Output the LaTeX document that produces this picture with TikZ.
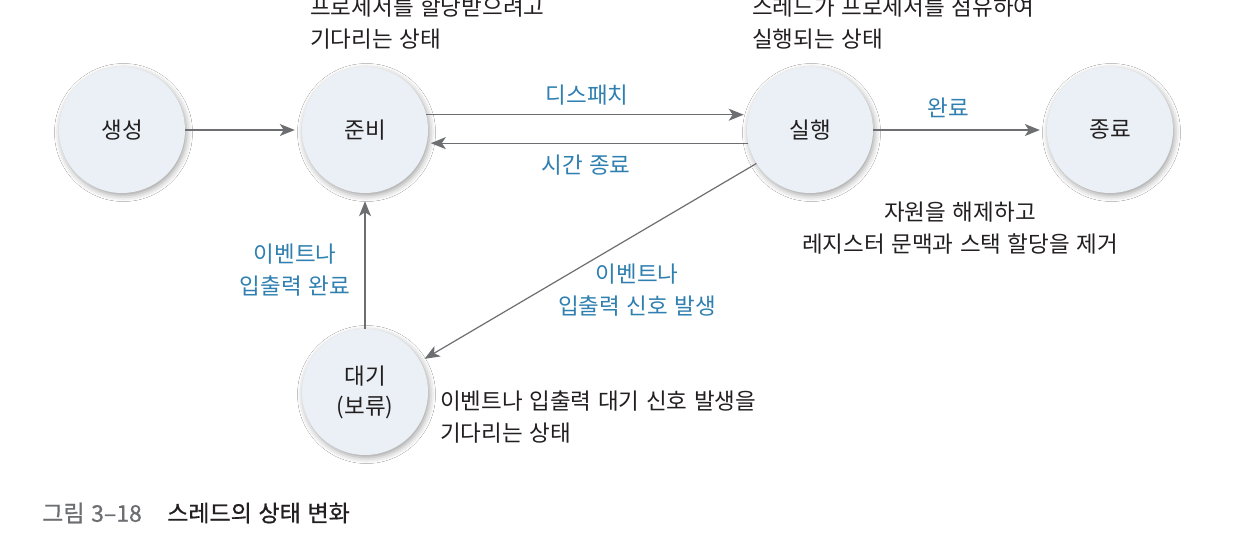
\documentclass[tikz,border=0pt]{standalone}
\usepackage{fontspec}
\setmainfont[WordSpace=1.3]{Noto Sans CJK KR}
\newfontfamily\capfont[FakeBold=0.7,WordSpace=1.3]{Noto Sans CJK KR}
\usetikzlibrary{arrows.meta,shadows.blur}
\definecolor{circfill}{HTML}{EAF0F5}
\definecolor{lblblue}{HTML}{2F80B0}
\definecolor{arrgray}{HTML}{6D6E71}
\definecolor{txt}{HTML}{231F20}
\tikzset{
  state/.style={circle, minimum size=126pt, inner sep=0pt, fill=circfill,
    blur shadow={shadow xshift=1.5pt, shadow yshift=-2.5pt, shadow blur radius=6pt, shadow opacity=38},
    font=\fontsize{22.5}{30}\selectfont, text=txt, align=center},
  conn/.style={draw=arrgray, line width=1.2pt, -{Stealth[length=15pt,width=12pt,inset=4pt]}},
  lbl/.style={text=lblblue, font=\fontsize{22.5}{32}\selectfont, align=center, inner sep=0pt},
  note/.style={text=txt, font=\fontsize{22.5}{32}\selectfont, align=left, inner sep=0pt},
  captxt/.style={inner sep=0pt, anchor=west, font=\capfont\fontsize{23}{26}\selectfont}
}
\begin{document}
\begin{tikzpicture}[x=1pt,y=-1pt]
\useasboundingbox (0,0) rectangle (1236,546);
\fill[white] (0,0) rectangle (1236,546);
% states
\node[state] (create) at (122,130) {생성};
\node[state] (ready) at (365,130) {준비};
\node[state] (run) at (810,130) {실행};
\node[state] (done) at (1110,130) {종료};
\node[state] (wait) at (365,392) {대기\\(보류)};
% connectors
\draw[conn, shorten >=7pt] (create) -- (ready);
\draw[conn, shorten >=5pt] (ready.14) -- (run.166);
\draw[conn, shorten >=4pt] (run.-168) -- (ready.-12);
\draw[conn, shorten >=7pt] (run) -- (done);
\draw[conn, shorten >=5pt] (run.212) -- (wait.29);
\draw[conn, shorten >=8pt] (wait) -- (ready);
% labels
\node[lbl] (ldispatch) at (587,95) {디스패치};
\node[lbl] (ltimeout) at (586,165) {시간 종료};
\node[lbl] (lfinish) at (948,108) {완료};
\node[lbl] (lioDone) at (295,270) {이벤트나\\입출력 완료};
\node[lbl] (lioSig) at (637,290) {이벤트나\\입출력 신호 발생};
% notes
\node[note, anchor=west] (nready) at (310,23) {프로세서를 할당받으려고\\기다리는 상태};
\node[note, anchor=west] (nrun) at (752,23) {스레드가 프로세서를 점유하여\\실행되는 상태};
\node[note, align=center] (ndone) at (960,228) {자원을 해제하고\\레지스터 문맥과 스택 할당을 제거};
\node[note, anchor=west] (nwait) at (440,417) {이벤트나 입출력 대기 신호 발생을\\기다리는 상태};
% caption
\node[captxt, text=arrgray] (cap1) at (42,513) {그림 3–18};
\node[captxt, text=txt] (cap2) at (167,513) {스레드의 상태 변화};
\end{tikzpicture}
\end{document}
